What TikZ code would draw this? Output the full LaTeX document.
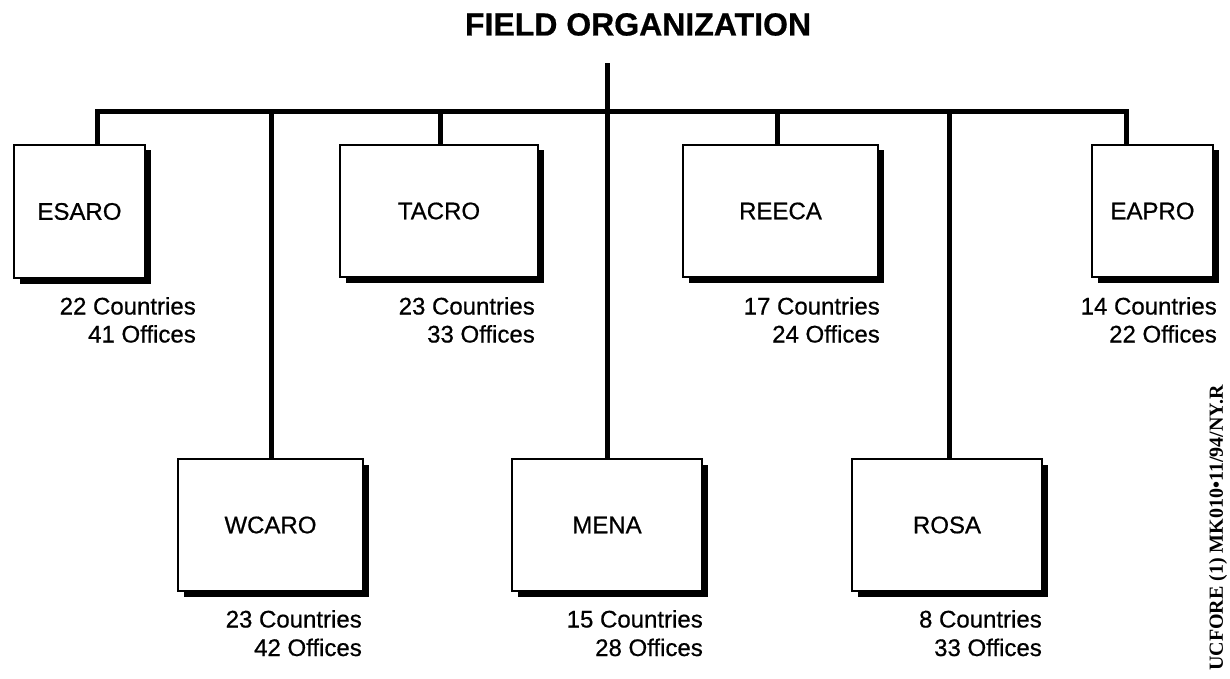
\documentclass[tikz,border=0pt]{standalone}
\usepackage{fontspec}
\setmainfont{Liberation Sans}[FakeBold=0.6]
\newfontfamily\codeserif{Liberation Serif}
\usetikzlibrary{shadows}
\begin{document}
\begin{tikzpicture}[x=1pt,y=-1pt,
  office/.style={draw=black, line width=2.5pt, fill=white, inner sep=0pt,
    font=\fontsize{24}{28}\selectfont,
    drop shadow={shadow xshift=5.5pt, shadow yshift=-5.5pt, fill=black, opacity=1}},
  link/.style={line width=5pt, line join=miter, line cap=rect},
  stat/.style={font=\fontsize{24}{28}\selectfont, inner sep=0pt, anchor=base east},
]
% canvas
\fill[white] (0,0) rectangle (1230,679);
\useasboundingbox (0,0) rectangle (1230,679);

% heading
\node[font=\bfseries\fontsize{32}{38}\selectfont, inner sep=0pt, anchor=base] (title) at (638,35.5) {FIELD ORGANIZATION};

% attachment points of the tree
\coordinate (top) at (607,66);
\coordinate (hub) at (607,112);
\coordinate (esaro-in) at (97,145);
\coordinate (tacro-in) at (440,145);
\coordinate (reeca-in) at (777,145);
\coordinate (eapro-in) at (1126,145);
\coordinate (wcaro-in) at (271,459);
\coordinate (mena-in) at (607,459);
\coordinate (rosa-in) at (949,459);

% connectors
\draw[link] (top) -- (hub);
\draw[link] (hub) -| (esaro-in);
\draw[link] (hub) -| (eapro-in);
\draw[link] (hub) -| (tacro-in);
\draw[link] (hub) -| (reeca-in);
\draw[link] (hub) -| (wcaro-in);
\draw[link] (hub) -- (mena-in);
\draw[link] (hub) -| (rosa-in);

% regional offices, upper row
\node[office, minimum width=131pt, minimum height=133pt] (esaro) at (79.5,211.5) {ESARO};
\node[office, minimum width=198pt, minimum height=132pt] (tacro) at (439,211) {TACRO};
\node[office, minimum width=195pt, minimum height=132pt] (reeca) at (780.5,211) {REECA};
\node[office, minimum width=121pt, minimum height=132pt] (eapro) at (1152.5,211) {EAPRO};

% regional offices, lower row
\node[office, minimum width=185pt, minimum height=132pt] (wcaro) at (270.5,525) {WCARO};
\node[office, minimum width=190pt, minimum height=132pt] (mena) at (607,525) {MENA};
\node[office, minimum width=190pt, minimum height=132pt] (rosa) at (947,525) {ROSA};

% figures under each office
\node[stat] (esaro-c) at (196,314.5) {22 Countries};
\node[stat] (esaro-o) at (196,342.5) {41 Offices};
\node[stat] (tacro-c) at (535,314.5) {23 Countries};
\node[stat] (tacro-o) at (535,342.5) {33 Offices};
\node[stat] (reeca-c) at (880,314.5) {17 Countries};
\node[stat] (reeca-o) at (880,342.5) {24 Offices};
\node[stat] (eapro-c) at (1217,314.5) {14 Countries};
\node[stat] (eapro-o) at (1217,342.5) {22 Offices};
\node[stat] (wcaro-c) at (362,627.5) {23 Countries};
\node[stat] (wcaro-o) at (362,656) {42 Offices};
\node[stat] (mena-c) at (703,627.5) {15 Countries};
\node[stat] (mena-o) at (703,656) {28 Offices};
\node[stat] (rosa-c) at (1042,627.5) {8 Countries};
\node[stat] (rosa-o) at (1042,656) {33 Offices};

% file reference along the right margin
\node[font=\codeserif\bfseries\fontsize{20}{24}\selectfont, inner sep=0pt, rotate=90] (code) at (1218,528) {UCFORE (1) MK010•11/94/NY.R};
\end{tikzpicture}
\end{document}
